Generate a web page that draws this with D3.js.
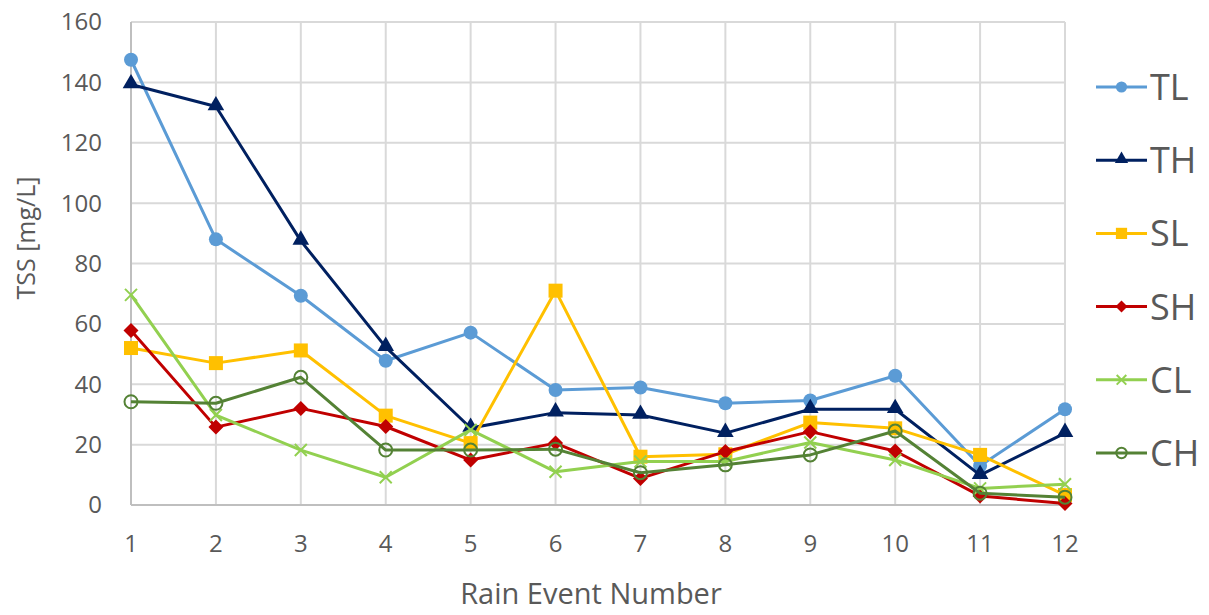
<!DOCTYPE html>
<html>
<head>
<meta charset="utf-8">
<script src="https://cdn.jsdelivr.net/npm/d3@7"></script>
<style>
  body { margin: 0; background: #fff; }
  svg text { font-family: "Open Sans", "Noto Sans", sans-serif; fill: #595959; }
</style>
</head>
<body>
<script>
var events = [1, 2, 3, 4, 5, 6, 7, 8, 9, 10, 11, 12];
var yTicks = [0, 20, 40, 60, 80, 100, 120, 140, 160];

var TL = [147.5, 88, 69.3, 47.8, 57.1, 38.1, 38.9, 33.7, 34.6, 42.8, 13, 31.7];
var TH = [139.3, 132, 87.5, 52.3, 25.5, 30.6, 29.8, 23.8, 31.7, 31.7, 9.9, 23.8];
var SL = [52, 47, 51.2, 29.6, 20.5, 71, 16, 16.8, 27.3, 25.4, 16.6, 3.3];
var SH = [57.8, 25.8, 32, 26, 14.9, 20.5, 8.8, 17.7, 24.3, 17.9, 3, 0.5];
var CL = [69.6, 29.8, 18.2, 9.2, 24.9, 11, 14.4, 14.4, 20.7, 14.9, 5.5, 6.9];
var CH = [34.2, 33.7, 42.3, 18.2, 18.2, 18.5, 10.7, 13.3, 16.6, 24.5, 3.9, 2.6];

var series = [
  {name: "TL", values: TL, color: "#5B9BD5", marker: "circle"},
  {name: "TH", values: TH, color: "#002060", marker: "triangle"},
  {name: "SL", values: SL, color: "#FFC000", marker: "square"},
  {name: "SH", values: SH, color: "#C00000", marker: "diamond"},
  {name: "CL", values: CL, color: "#92D050", marker: "x"},
  {name: "CH", values: CH, color: "#548235", marker: "ring"}
];

var width = 1209, height = 615;
var margin = {left: 131, right: 144, top: 22, bottom: 110};

var svg = d3.select("body").append("svg")
  .attr("width", width)
  .attr("height", height);

var x = d3.scalePoint()
  .domain(events)
  .range([margin.left, width - margin.right]);

var y = d3.scaleLinear()
  .domain([0, 160])
  .range([height - margin.bottom, margin.top]);

// grid
svg.append("g")
  .selectAll("line.h")
  .data(yTicks.slice(1))
  .enter().append("line")
  .attr("x1", margin.left).attr("x2", x(12))
  .attr("y1", function(d){ return y(d); })
  .attr("y2", function(d){ return y(d); })
  .attr("stroke", "#d9d9d9").attr("stroke-width", 2);

svg.append("g")
  .selectAll("line.v")
  .data(events.slice(1))
  .enter().append("line")
  .attr("x1", function(d){ return x(d); })
  .attr("x2", function(d){ return x(d); })
  .attr("y1", y(0)).attr("y2", y(160))
  .attr("stroke", "#d9d9d9").attr("stroke-width", 2);

// axes lines
svg.append("line")
  .attr("x1", margin.left).attr("x2", margin.left)
  .attr("y1", y(0)).attr("y2", y(160))
  .attr("stroke", "#bfbfbf").attr("stroke-width", 2);
svg.append("line")
  .attr("x1", margin.left).attr("x2", x(12))
  .attr("y1", y(0)).attr("y2", y(0))
  .attr("stroke", "#bfbfbf").attr("stroke-width", 2);

// tick labels
svg.append("g")
  .selectAll("text")
  .data(yTicks)
  .enter().append("text")
  .attr("x", 102)
  .attr("y", function(d){ return y(d); })
  .attr("dy", "0.35em")
  .attr("text-anchor", "end")
  .style("font-size", "24px")
  .text(function(d){ return d; });

svg.append("g")
  .selectAll("text")
  .data(events)
  .enter().append("text")
  .attr("x", function(d){ return x(d); })
  .attr("y", 544)
  .attr("dy", "0.35em")
  .attr("text-anchor", "middle")
  .style("font-size", "24px")
  .text(function(d){ return d; });

// axis titles
svg.append("text")
  .attr("transform", "translate(35,238) rotate(-90)")
  .attr("text-anchor", "middle")
  .style("font-size", "25px")
  .text("TSS [mg/L]");

svg.append("text")
  .attr("x", 591)
  .attr("y", 604)
  .attr("text-anchor", "middle")
  .style("font-size", "29px")
  .text("Rain Event Number");

function drawMarker(g, type, color, cx, cy, s) {
  s = s || 1;
  if (type === "circle") {
    g.append("circle").attr("cx", cx).attr("cy", cy).attr("r", 7 * s).attr("fill", color);
  } else if (type === "triangle") {
    g.append("path")
      .attr("d", d3.symbol().type(d3.symbolTriangle).size(120 * s * s)())
      .attr("transform", "translate(" + cx + "," + (cy - 1) + ")")
      .attr("fill", color);
  } else if (type === "square") {
    var a = 14 * s;
    g.append("rect").attr("x", cx - a / 2).attr("y", cy - a / 2)
      .attr("width", a).attr("height", a).attr("fill", color);
  } else if (type === "diamond") {
    var r = 7.5 * s;
    g.append("path")
      .attr("d", "M" + cx + "," + (cy - r) + "L" + (cx + r) + "," + cy + "L" + cx + "," + (cy + r) + "L" + (cx - r) + "," + cy + "Z")
      .attr("fill", color);
  } else if (type === "x") {
    var k = 6 * s;
    g.append("path")
      .attr("d", "M" + (cx - k) + "," + (cy - k) + "L" + (cx + k) + "," + (cy + k) + "M" + (cx - k) + "," + (cy + k) + "L" + (cx + k) + "," + (cy - k))
      .attr("stroke", color).attr("stroke-width", 2).attr("fill", "none");
  } else if (type === "ring") {
    g.append("circle").attr("cx", cx).attr("cy", cy).attr("r", 6.5 * s)
      .attr("fill", "none").attr("stroke", color).attr("stroke-width", 2);
  }
}

var line = d3.line()
  .x(function(d, i){ return x(events[i]); })
  .y(function(d){ return y(d); });

series.forEach(function(s){
  var g = svg.append("g").attr("class", "series-" + s.name);
  g.append("path")
    .datum(s.values)
    .attr("d", line)
    .attr("fill", "none")
    .attr("stroke", s.color)
    .attr("stroke-width", 3)
    .attr("stroke-linejoin", "round");
  s.values.forEach(function(v, i){
    drawMarker(g, s.marker, s.color, x(events[i]), y(v));
  });
});

// legend
var legend = svg.append("g");
series.forEach(function(s, i){
  var cy = 87 + i * 73.2;
  var g = legend.append("g");
  g.append("line")
    .attr("x1", 1096).attr("x2", 1147)
    .attr("y1", cy).attr("y2", cy)
    .attr("stroke", s.color).attr("stroke-width", 3);
  drawMarker(g, s.marker, s.color, 1121.5, cy, 0.8);
  g.append("text")
    .attr("x", 1150)
    .attr("y", cy)
    .attr("dy", "0.36em")
    .style("font-size", "36px")
    .text(s.name);
});
</script>
</body>
</html>
